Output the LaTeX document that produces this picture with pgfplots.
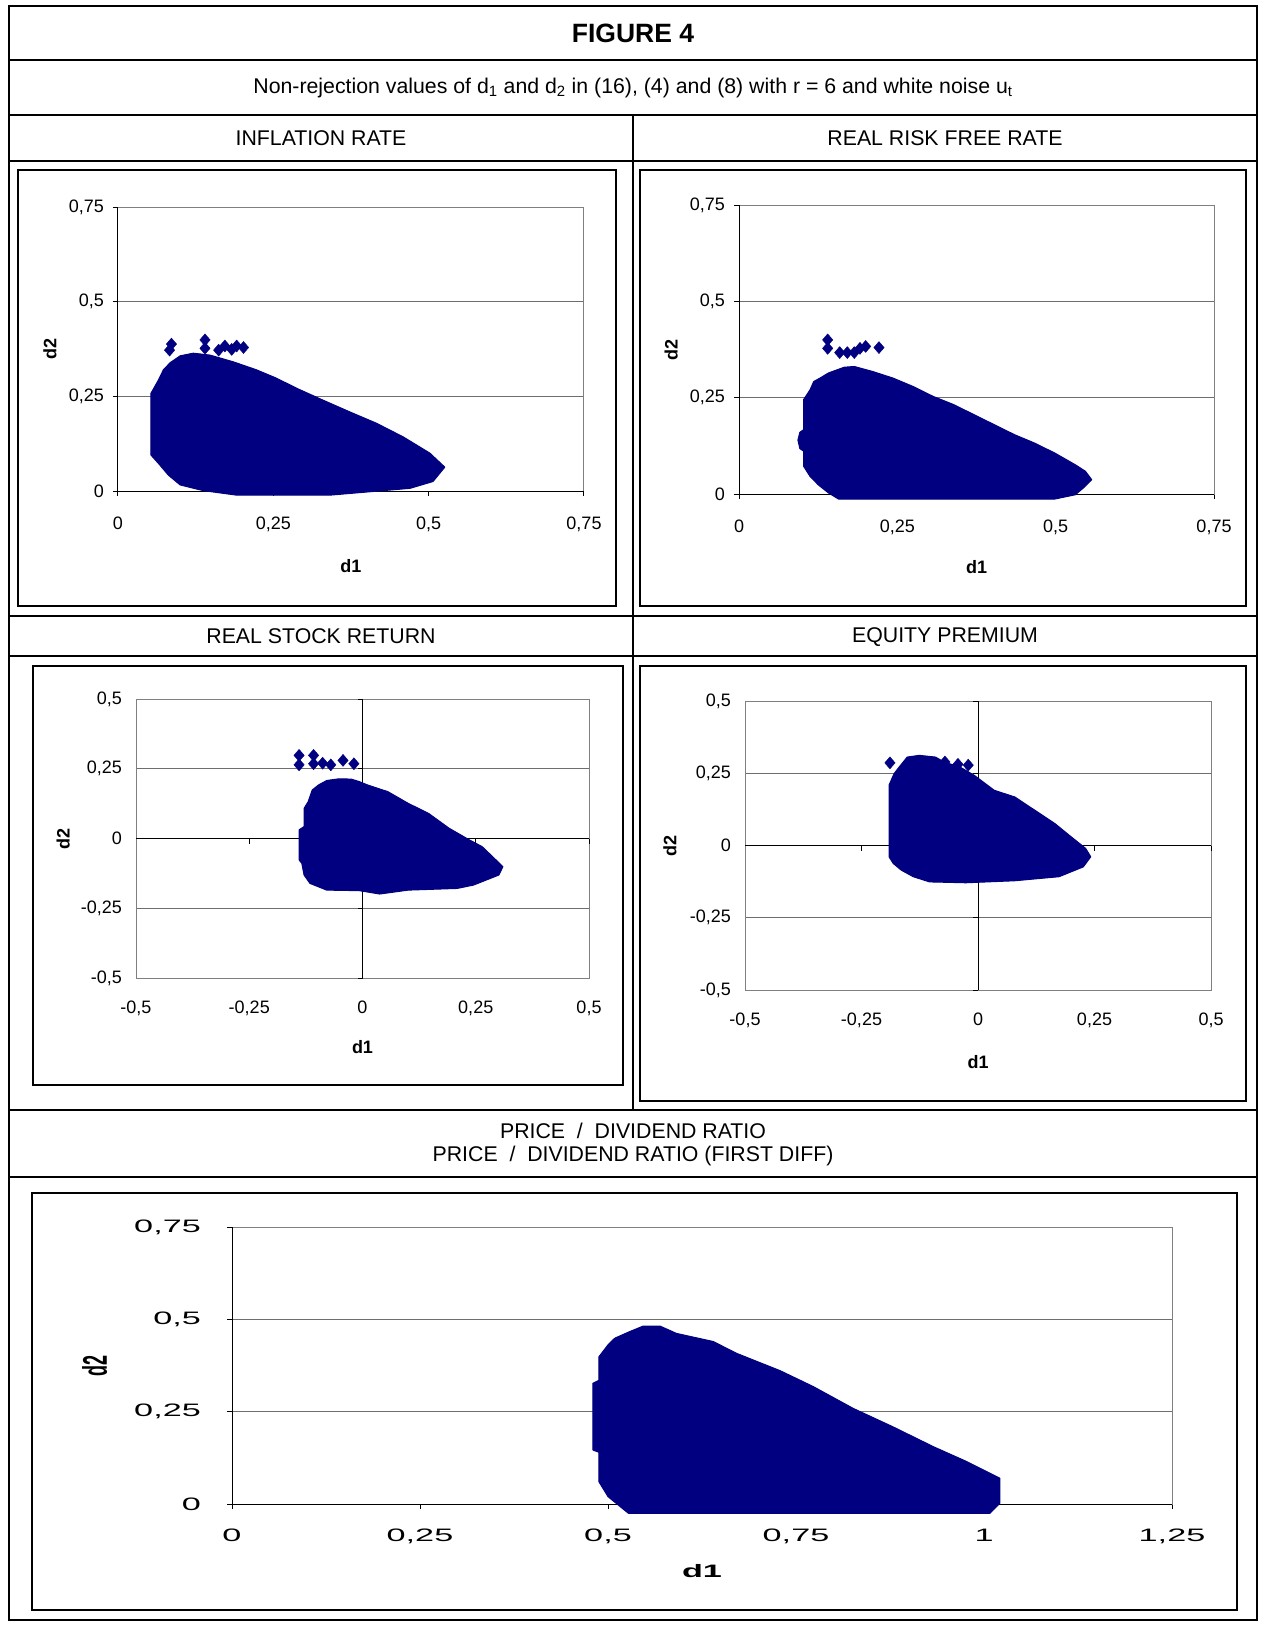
\documentclass[border=0pt]{standalone}
\usepackage{pgfplots}
\pgfplotsset{compat=1.18}
\usepackage{fontspec}
\setmainfont{Liberation Sans}
\usepackage{graphicx}

\definecolor{navy}{RGB}{0,0,128}
\definecolor{gridgray}{RGB}{110,110,110}
\newcommand\wide[1]{\scalebox{1.9}[1]{#1}}

\pgfplotsset{
  excel/.style={
    scale only axis, anchor=south west, clip=false,
    axis line style={gray, line width=1pt},
    ymajorgrids, grid style={gridgray, line width=1pt},
    tick style={black, line width=1pt},
    tickpos=left, tick align=outside, major tick length=5pt,
    ticklabel style={font=\fontsize{18}{20}\selectfont, inner sep=0pt},
    xticklabel style={anchor=north, yshift=-21pt},
    yticklabel style={anchor=east, xshift=-9pt},
    label style={font=\bfseries\fontsize{18}{20}\selectfont, inner sep=0pt},
    xlabel=d1, ylabel=d2,
  },
  quarter/.style={
    xmin=0, xmax=0.75, ymin=0, ymax=0.75,
    xtick={0,0.25,0.5,0.75}, ytick={0,0.25,0.5,0.75},
    xticklabels={0,{0,25},{0,5},{0,75}},
    yticklabels={0,{0,25},{0,5},{0,75}},
  },
  half/.style={
    xmin=-0.5, xmax=0.5, ymin=-0.5, ymax=0.5,
    xtick={-0.5,-0.25,0,0.25,0.5}, ytick={-0.5,-0.25,0,0.25,0.5},
    xticklabels={{-0,5},{-0,25},0,{0,25},{0,5}},
    yticklabels={{-0,5},{-0,25},0,{0,25},{0,5}},
    major tick length=0pt,
    xticklabel style={yshift=-2pt},
    yticklabel style={xshift=-5pt},
  },
  blob/.style={fill=navy, draw=navy, line width=1pt, line join=round, mark=none},
  dots/.style={only marks, color=navy, mark=diamond*, mark size=6pt,
    mark options={fill=navy, draw=navy, xscale=1.15}},
  zero/.style={black, line width=1pt, mark=none},
}

\begin{document}
\begin{tikzpicture}
\path[use as bounding box] (0pt,0pt) rectangle (1265pt,-1625pt);

% table frame
\draw[line width=2pt] (9pt,-6pt) rectangle (1257pt,-1620pt);
\foreach \yy in {60,115,161,616,656,1110,1177}
  \draw[line width=2pt] (9pt,-\yy*1pt) -- (1257pt,-\yy*1pt);
\draw[line width=2pt] (633pt,-115pt) -- (633pt,-1110pt);

% chart boxes
\draw[line width=1.5pt] (18pt,-170pt) rectangle (616pt,-606pt);
\draw[line width=1.5pt] (640pt,-170pt) rectangle (1246pt,-606pt);
\draw[line width=1.5pt] (33pt,-666pt) rectangle (623pt,-1085pt);
\draw[line width=1.5pt] (640pt,-666pt) rectangle (1246pt,-1101pt);
\draw[line width=1.5pt] (32pt,-1193pt) rectangle (1237pt,-1610pt);

% titles
\node[font=\bfseries\fontsize{26.5}{30}\selectfont] at (633pt,-33pt) {FIGURE 4};
\node[font=\fontsize{21.3}{24}\selectfont] at (633pt,-88pt)
  {Non-rejection values of d\textsubscript{1} and d\textsubscript{2} in (16), (4) and (8) with r = 6 and white noise u\textsubscript{t}};
\node[font=\fontsize{21.3}{24}\selectfont] at (321pt,-138pt) {INFLATION RATE};
\node[font=\fontsize{21.3}{24}\selectfont] at (945pt,-138pt) {REAL RISK FREE RATE};
\node[font=\fontsize{21.3}{24}\selectfont] at (321pt,-636pt) {REAL STOCK RETURN};
\node[font=\fontsize{21.3}{24}\selectfont] at (945pt,-637pt) {EQUITY PREMIUM};
\node[font=\fontsize{21.3}{24}\selectfont] at (633pt,-1131pt) {PRICE\ \ /\ \ DIVIDEND RATIO};
\node[font=\fontsize{21.3}{24}\selectfont] at (633pt,-1156pt) {PRICE\ \ /\ \ DIVIDEND RATIO (FIRST DIFF)};

% INFLATION RATE
\begin{axis}[excel, quarter, at={(118pt,-491pt)}, width=466pt, height=284pt,
  xlabel style={at={(rel axis cs:0.5,-0.264)}, anchor=center},
  ylabel style={at={(rel axis cs:-0.146,0.5)}, anchor=center}]
\addplot[zero] coordinates {(0,0.75) (0,0) (0.75,0)};
\addplot[blob] coordinates {
  (0.053,0.095) (0.053,0.258) (0.065,0.293) (0.073,0.320) (0.084,0.339)
  (0.100,0.357) (0.121,0.364) (0.148,0.359) (0.186,0.341) (0.223,0.320)
  (0.255,0.298) (0.288,0.271) (0.330,0.240) (0.373,0.209) (0.416,0.179)
  (0.459,0.143) (0.502,0.100) (0.526,0.063) (0.507,0.025) (0.470,0.007)
  (0.341,-0.011) (0.191,-0.011) (0.137,0.001) (0.100,0.016) (0.081,0.042)
  (0.065,0.073) (0.053,0.095)};
\addplot[dots] coordinates {
  (0.086,0.388) (0.083,0.372) (0.140,0.399) (0.140,0.377)
  (0.162,0.372) (0.172,0.383) (0.183,0.374) (0.191,0.383) (0.202,0.379)};
\end{axis}

% REAL RISK FREE RATE
\begin{axis}[excel, quarter, at={(739pt,-494pt)}, width=475pt, height=289pt,
  xlabel style={at={(rel axis cs:0.5,-0.253)}, anchor=center},
  ylabel style={at={(rel axis cs:-0.143,0.5)}, anchor=center}]
\addplot[zero] coordinates {(0,0.75) (0,0) (0.75,0)};
\addplot[blob] coordinates {
  (0.557,0.037) (0.547,0.059) (0.531,0.076) (0.499,0.106) (0.467,0.132)
  (0.435,0.154) (0.403,0.180) (0.371,0.206) (0.339,0.232) (0.307,0.253)
  (0.275,0.279) (0.243,0.301) (0.211,0.318) (0.182,0.331) (0.166,0.329)
  (0.141,0.314) (0.128,0.301) (0.118,0.292) (0.112,0.270) (0.102,0.245)
  (0.102,0.167) (0.096,0.160) (0.093,0.140) (0.096,0.118) (0.102,0.111) (0.102,0.072)
  (0.112,0.046) (0.125,0.024) (0.141,0.003) (0.157,-0.013) (0.499,-0.013)
  (0.531,-0.002) (0.544,0.016) (0.557,0.037)};
\addplot[dots] coordinates {
  (0.140,0.400) (0.140,0.378) (0.159,0.367) (0.171,0.367)
  (0.182,0.367) (0.191,0.378) (0.200,0.383) (0.221,0.380)};
\end{axis}

% REAL STOCK RETURN
\begin{axis}[excel, half, at={(136pt,-978pt)}, width=453pt, height=279pt,
  xlabel style={at={(rel axis cs:0.5,-0.247)}, anchor=center},
  ylabel style={at={(rel axis cs:-0.161,0.5)}, anchor=center}]
\addplot[zero] coordinates {(-0.5,0) (0.5,0)};
\addplot[zero] coordinates {(0,-0.5) (0,0.5)};
\pgfplotsinvokeforeach{-0.25,0.25,0.5}{\draw[black,line width=1pt] (axis cs:#1,0) -- ++(0pt,-5pt);}
\pgfplotsinvokeforeach{-0.5,-0.25,0.25,0.5}{\draw[black,line width=1pt] (axis cs:0,#1) -- ++(-5pt,0pt);}
\addplot[blob] coordinates {
  (-0.140,-0.077) (-0.140,0.031) (-0.129,0.043) (-0.129,0.108) (-0.120,0.132)
  (-0.111,0.174) (-0.097,0.192) (-0.079,0.208) (-0.052,0.214) (-0.025,0.213)
  (-0.007,0.204) (0.011,0.192) (0.056,0.168) (0.101,0.126) (0.146,0.090)
  (0.191,0.037) (0.236,-0.005) (0.264,-0.029) (0.291,-0.071) (0.310,-0.101)
  (0.301,-0.131) (0.273,-0.149) (0.245,-0.167) (0.209,-0.179) (0.101,-0.185)
  (0.038,-0.199) (-0.007,-0.187) (-0.079,-0.185) (-0.116,-0.161) (-0.129,-0.131)
  (-0.134,-0.089) (-0.140,-0.077)};
\addplot[dots] coordinates {
  (-0.140,0.298) (-0.140,0.264) (-0.108,0.298) (-0.108,0.268)
  (-0.088,0.270) (-0.070,0.264) (-0.043,0.280) (-0.019,0.268)};
\end{axis}

% EQUITY PREMIUM
\begin{axis}[excel, half, at={(745pt,-990pt)}, width=466pt, height=289pt,
  xlabel style={at={(rel axis cs:0.5,-0.249)}, anchor=center},
  ylabel style={at={(rel axis cs:-0.161,0.5)}, anchor=center}]
\addplot[zero] coordinates {(-0.5,0) (0.5,0)};
\addplot[zero] coordinates {(0,-0.5) (0,0.5)};
\pgfplotsinvokeforeach{-0.25,0.25,0.5}{\draw[black,line width=1pt] (axis cs:#1,0) -- ++(0pt,-5pt);}
\pgfplotsinvokeforeach{-0.5,-0.25,0.25,0.5}{\draw[black,line width=1pt] (axis cs:0,#1) -- ++(-5pt,0pt);}
\addplot[blob] coordinates {
  (-0.191,-0.039) (-0.191,0.209) (-0.180,0.249) (-0.169,0.272) (-0.152,0.306)
  (-0.126,0.312) (-0.091,0.306) (-0.073,0.289) (-0.039,0.272) (-0.008,0.243)
  (0.035,0.191) (0.079,0.168) (0.122,0.122) (0.165,0.076) (0.200,0.030)
  (0.231,-0.010) (0.242,-0.039) (0.226,-0.074) (0.200,-0.091) (0.174,-0.108)
  (0.079,-0.122) (-0.026,-0.129) (-0.104,-0.126) (-0.139,-0.108) (-0.165,-0.085)
  (-0.182,-0.062) (-0.191,-0.039)};
\addplot[dots] coordinates {
  (-0.189,0.286) (-0.021,0.278) (-0.043,0.281) (-0.071,0.289)};
\end{axis}

% PRICE / DIVIDEND RATIO
\begin{axis}[excel, at={(232pt,-1504pt)}, width=940pt, height=277pt,
  xmin=0, xmax=1.25, ymin=0, ymax=0.75,
  xtick={0,0.25,0.5,0.75,1,1.25}, ytick={0,0.25,0.5,0.75},
  xticklabels={\wide{0},{\wide{0,25}},{\wide{0,5}},{\wide{0,75}},\wide{1},{\wide{1,25}}},
  yticklabels={\wide{0},{\wide{0,25}},{\wide{0,5}},{\wide{0,75}}},
  xticklabel style={yshift=1pt},
  yticklabel style={xshift=-17pt},
  xlabel={\wide{d1}}, ylabel={\scalebox{1}[1.9]{d2}},
  xlabel style={at={(rel axis cs:0.5,-0.242)}, anchor=center},
  ylabel style={at={(rel axis cs:-0.146,0.5)}, anchor=center}]
\addplot[zero] coordinates {(0,0.75) (0,0) (1.25,0)};
\addplot[blob] coordinates {
  (0.480,0.146) (0.480,0.327) (0.488,0.335) (0.488,0.399) (0.500,0.431)
  (0.509,0.449) (0.529,0.467) (0.547,0.482) (0.569,0.482) (0.591,0.462)
  (0.640,0.440) (0.671,0.408) (0.729,0.361) (0.773,0.318) (0.826,0.259)
  (0.879,0.209) (0.933,0.155) (0.977,0.115) (1.021,0.070) (1.021,0.002)
  (1.008,-0.025) (0.527,-0.025) (0.500,0.020) (0.488,0.060) (0.488,0.140)
  (0.480,0.146)};
\end{axis}
\end{tikzpicture}
\end{document}
